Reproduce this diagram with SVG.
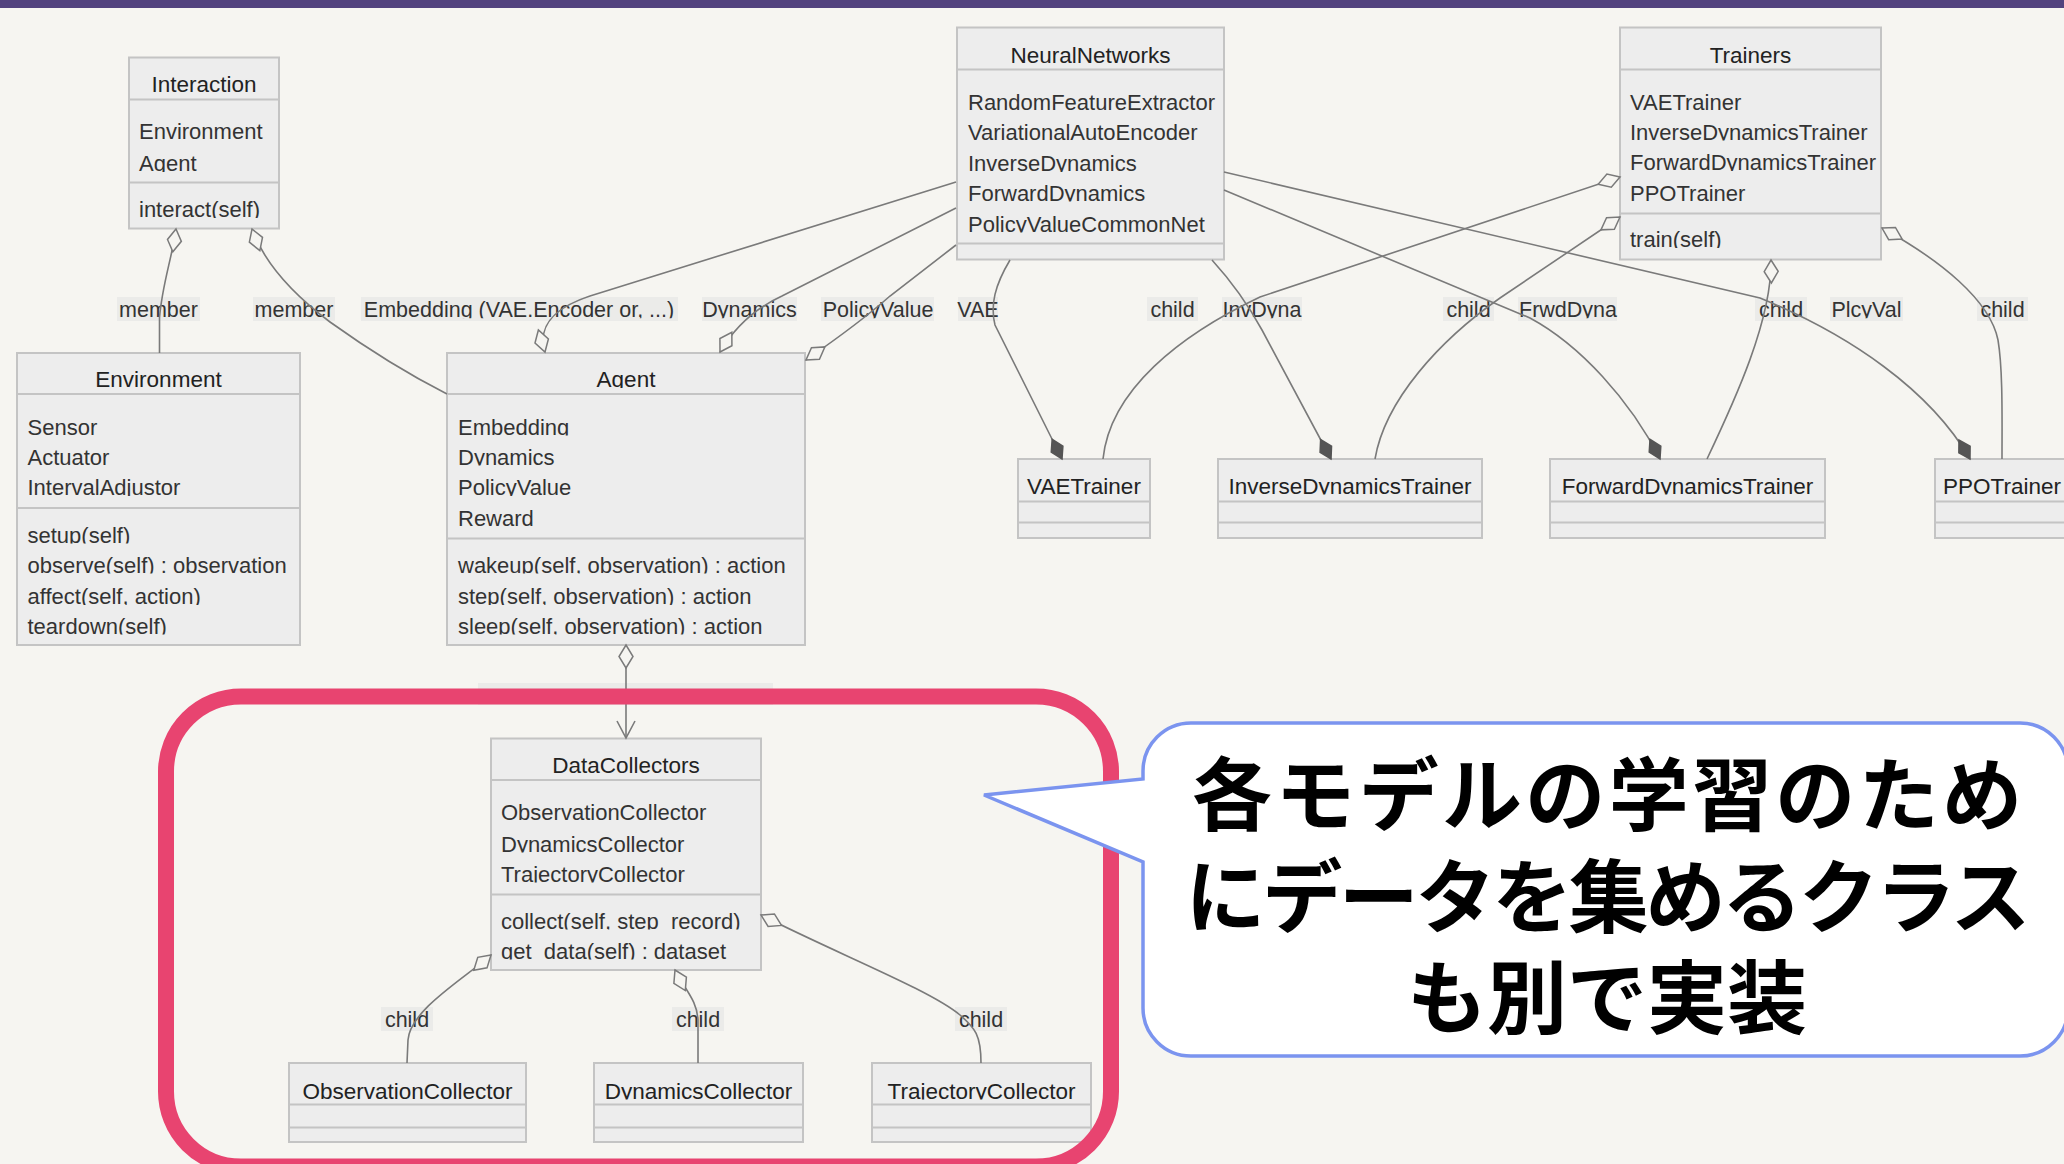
<svg xmlns="http://www.w3.org/2000/svg" width="2064" height="1164" viewBox="0 0 2064 1164">
  <defs>
    <style>
      .nb { fill: #ededed; stroke: #c4c4c4; stroke-width: 2; }
      .dv { stroke: #c4c4c4; stroke-width: 2; }
      .t { font-family: "Liberation Sans", Arial, sans-serif; font-size: 22px; fill: #333; clip-path: url(#cut); }
      .tt { font-size: 22.5px; text-anchor: middle; fill: #222; }
      .lb { font-size: 21.5px; text-anchor: middle; }
      .lbg { fill: #ebebe9; }
      .e { fill: none; stroke: #7a7a7a; stroke-width: 1.6; }
      .agg { marker-start: url(#aggS); }
      .aggE { marker-end: url(#aggE); }
      .comp { marker-end: url(#compE); }
      .jp { font-family: "Noto Sans CJK JP", "Noto Sans CJK SC", sans-serif; font-size: 80px; font-weight: 700; fill: #000; text-anchor: middle; }
    </style>
    <!-- descenders are cut off at the baseline, as in the rendered class boxes -->
    <clipPath id="cut" clipPathUnits="objectBoundingBox">
      <rect x="-0.1" y="-0.2" width="1.2" height="1.04"/>
    </clipPath>
    <marker id="aggS" markerUnits="userSpaceOnUse" orient="auto" overflow="visible" markerWidth="30" markerHeight="30" refX="0" refY="0">
      <path d="M0,0 L11.5,-7 L23,0 L11.5,7 Z" fill="#f6f5f1" stroke="#7a7a7a" stroke-width="1.5"/>
    </marker>
    <marker id="aggE" markerUnits="userSpaceOnUse" orient="auto" overflow="visible" markerWidth="30" markerHeight="30" refX="0" refY="0">
      <path d="M0,0 L-11.5,-7 L-23,0 L-11.5,7 Z" fill="#f6f5f1" stroke="#7a7a7a" stroke-width="1.5"/>
    </marker>
    <marker id="compE" markerUnits="userSpaceOnUse" orient="auto" overflow="visible" markerWidth="30" markerHeight="30" refX="0" refY="0">
      <path d="M0,0 L-11,-6.5 L-22,0 L-11,6.5 Z" fill="#555" stroke="#555" stroke-width="1.5"/>
    </marker>
    <marker id="openArrow" markerUnits="userSpaceOnUse" orient="auto" overflow="visible" markerWidth="30" markerHeight="30" refX="0" refY="0">
      <path d="M-17,-9 L0,0 L-17,9" fill="none" stroke="#7a7a7a" stroke-width="1.6"/>
    </marker>
  </defs>

  <rect x="0" y="0" width="2064" height="1164" fill="#f6f5f1"/>
  <rect x="0" y="0" width="2064" height="8" fill="#52427e"/>

  <!-- class boxes -->
  <g id="interaction">
    <rect class="nb" x="129" y="57.5" width="150" height="171"/>
    <line class="dv" x1="129" y1="99.5" x2="279" y2="99.5"/>
    <line class="dv" x1="129" y1="182.5" x2="279" y2="182.5"/>
    <text class="t tt" x="204" y="92">Interaction</text>
    <text class="t" x="139" y="139">Environment</text>
    <text class="t" x="139" y="171">Agent</text>
    <text class="t" x="139" y="217">interact(self)</text>
  </g>

  <g id="environment">
    <rect class="nb" x="17" y="353" width="283" height="292"/>
    <line class="dv" x1="17" y1="394" x2="300" y2="394"/>
    <line class="dv" x1="17" y1="508" x2="300" y2="508"/>
    <text class="t tt" x="158.5" y="387">Environment</text>
    <text class="t" x="27.5" y="434.5">Sensor</text>
    <text class="t" x="27.5" y="464.5">Actuator</text>
    <text class="t" x="27.5" y="495">IntervalAdjustor</text>
    <text class="t" x="27.5" y="542.5">setup(self)</text>
    <text class="t" x="27.5" y="572.5">observe(self) : observation</text>
    <text class="t" x="27.5" y="604">affect(self, action)</text>
    <text class="t" x="27.5" y="633.5">teardown(self)</text>
  </g>

  <g id="agent">
    <rect class="nb" x="447" y="353" width="358" height="292"/>
    <line class="dv" x1="447" y1="394" x2="805" y2="394"/>
    <line class="dv" x1="447" y1="538.5" x2="805" y2="538.5"/>
    <text class="t tt" x="626" y="387">Agent</text>
    <text class="t" x="458" y="434.5">Embedding</text>
    <text class="t" x="458" y="464.5">Dynamics</text>
    <text class="t" x="458" y="495">PolicyValue</text>
    <text class="t" x="458" y="525.5">Reward</text>
    <text class="t" x="458" y="572.5">wakeup(self, observation) : action</text>
    <text class="t" x="458" y="604">step(self, observation) : action</text>
    <text class="t" x="458" y="633.5">sleep(self, observation) : action</text>
  </g>

  <g id="neural-networks">
    <rect class="nb" x="957" y="27.5" width="267" height="232"/>
    <line class="dv" x1="957" y1="69.5" x2="1224" y2="69.5"/>
    <line class="dv" x1="957" y1="243.5" x2="1224" y2="243.5"/>
    <text class="t tt" x="1090.5" y="62.5">NeuralNetworks</text>
    <text class="t" x="968" y="109.5">RandomFeatureExtractor</text>
    <text class="t" x="968" y="139.5">VariationalAutoEncoder</text>
    <text class="t" x="968" y="171">InverseDynamics</text>
    <text class="t" x="968" y="200.5">ForwardDynamics</text>
    <text class="t" x="968" y="231.5">PolicyValueCommonNet</text>
  </g>

  <g id="trainers">
    <rect class="nb" x="1620" y="27.5" width="261" height="232"/>
    <line class="dv" x1="1620" y1="69.5" x2="1881" y2="69.5"/>
    <line class="dv" x1="1620" y1="213.5" x2="1881" y2="213.5"/>
    <text class="t tt" x="1750.5" y="62.5">Trainers</text>
    <text class="t" x="1630" y="109.5">VAETrainer</text>
    <text class="t" x="1630" y="139.5">InverseDynamicsTrainer</text>
    <text class="t" x="1630" y="170">ForwardDynamicsTrainer</text>
    <text class="t" x="1630" y="200.5">PPOTrainer</text>
    <text class="t" x="1630" y="247">train(self)</text>
  </g>

  <g id="vae-trainer">
    <rect class="nb" x="1018" y="459" width="132" height="79"/>
    <line class="dv" x1="1018" y1="501.5" x2="1150" y2="501.5"/>
    <line class="dv" x1="1018" y1="522.5" x2="1150" y2="522.5"/>
    <text class="t tt" x="1084" y="493.5">VAETrainer</text>
  </g>

  <g id="inverse-dynamics-trainer">
    <rect class="nb" x="1218" y="459" width="264" height="79"/>
    <line class="dv" x1="1218" y1="501.5" x2="1482" y2="501.5"/>
    <line class="dv" x1="1218" y1="522.5" x2="1482" y2="522.5"/>
    <text class="t tt" x="1350" y="493.5">InverseDynamicsTrainer</text>
  </g>

  <g id="forward-dynamics-trainer">
    <rect class="nb" x="1550" y="459" width="275" height="79"/>
    <line class="dv" x1="1550" y1="501.5" x2="1825" y2="501.5"/>
    <line class="dv" x1="1550" y1="522.5" x2="1825" y2="522.5"/>
    <text class="t tt" x="1687.5" y="493.5">ForwardDynamicsTrainer</text>
  </g>

  <g id="ppo-trainer">
    <rect class="nb" x="1935" y="459" width="134" height="79"/>
    <line class="dv" x1="1935" y1="501.5" x2="2069" y2="501.5"/>
    <line class="dv" x1="1935" y1="522.5" x2="2069" y2="522.5"/>
    <text class="t tt" x="2002" y="493.5">PPOTrainer</text>
  </g>

  <g id="data-collectors">
    <rect class="nb" x="491" y="738.5" width="270" height="231.5"/>
    <line class="dv" x1="491" y1="780" x2="761" y2="780"/>
    <line class="dv" x1="491" y1="894.5" x2="761" y2="894.5"/>
    <text class="t tt" x="626" y="772.5">DataCollectors</text>
    <text class="t" x="501" y="820">ObservationCollector</text>
    <text class="t" x="501" y="851.5">DynamicsCollector</text>
    <text class="t" x="501" y="881.5">TrajectoryCollector</text>
    <text class="t" x="501" y="928.5">collect(self, step_record)</text>
    <text class="t" x="501" y="958.5">get_data(self) : dataset</text>
  </g>

  <g id="observation-collector">
    <rect class="nb" x="289" y="1063" width="237" height="79"/>
    <line class="dv" x1="289" y1="1104.5" x2="526" y2="1104.5"/>
    <line class="dv" x1="289" y1="1127.5" x2="526" y2="1127.5"/>
    <text class="t tt" x="407.5" y="1098.5">ObservationCollector</text>
  </g>

  <g id="dynamics-collector">
    <rect class="nb" x="594" y="1063" width="209" height="79"/>
    <line class="dv" x1="594" y1="1104.5" x2="803" y2="1104.5"/>
    <line class="dv" x1="594" y1="1127.5" x2="803" y2="1127.5"/>
    <text class="t tt" x="698.5" y="1098.5">DynamicsCollector</text>
  </g>

  <g id="trajectory-collector">
    <rect class="nb" x="872" y="1063" width="219" height="79"/>
    <line class="dv" x1="872" y1="1104.5" x2="1091" y2="1104.5"/>
    <line class="dv" x1="872" y1="1127.5" x2="1091" y2="1127.5"/>
    <text class="t tt" x="981.5" y="1098.5">TrajectoryCollector</text>
  </g>

  <!-- relation labels -->
  <g id="edge-labels">
    <rect class="lbg" x="117" y="297" width="83" height="24"/>
    <text class="t lb" x="158.5" y="317">member</text>
    <rect class="lbg" x="253" y="297" width="82" height="24"/>
    <text class="t lb" x="294" y="317">member</text>
    <rect class="lbg" x="361" y="297" width="317" height="24"/>
    <text class="t lb" x="519" y="317">Embedding (VAE.Encoder or, ...)</text>
    <rect class="lbg" x="702" y="297" width="95" height="24"/>
    <text class="t lb" x="749.5" y="317">Dynamics</text>
    <rect class="lbg" x="821" y="297" width="113" height="24"/>
    <text class="t lb" x="878" y="317">PolicyValue</text>
    <rect class="lbg" x="958" y="297" width="40" height="24"/>
    <text class="t lb" x="978" y="317">VAE</text>
    <rect class="lbg" x="1147" y="297" width="51" height="24"/>
    <text class="t lb" x="1172.5" y="317">child</text>
    <rect class="lbg" x="1222" y="297" width="80" height="24"/>
    <text class="t lb" x="1262" y="317">InvDyna</text>
    <rect class="lbg" x="1443" y="297" width="51" height="24"/>
    <text class="t lb" x="1468.5" y="317">child</text>
    <rect class="lbg" x="1518" y="297" width="99" height="24"/>
    <text class="t lb" x="1568" y="317">FrwdDyna</text>
    <rect class="lbg" x="1755" y="297" width="52" height="24"/>
    <text class="t lb" x="1781" y="317">child</text>
    <rect class="lbg" x="1830" y="297" width="73" height="24"/>
    <text class="t lb" x="1866.5" y="317">PlcyVal</text>
    <rect class="lbg" x="1977" y="297" width="51" height="24"/>
    <text class="t lb" x="2002.5" y="317">child</text>
    <rect class="lbg" x="478" y="683" width="295" height="22"/>
    <rect class="lbg" x="381" y="1007" width="52" height="24"/>
    <text class="t lb" x="407" y="1027">child</text>
    <rect class="lbg" x="672" y="1007" width="52" height="24"/>
    <text class="t lb" x="698" y="1027">child</text>
    <rect class="lbg" x="955" y="1007" width="52" height="24"/>
    <text class="t lb" x="981" y="1027">child</text>
  </g>

  <!-- relations -->
  <g id="connectors">
    <path class="e agg" d="M176,229 C172,258 162,285 159.5,318 L159.5,353"/>
    <path class="e agg" d="M252,229 C264,262 290,292 330,322 Q390,365 447,394"/>
    <path class="e aggE" d="M956,182 L590,296 C560,306 536,322 545,352"/>
    <path class="e aggE" d="M956,208 L782,296 C760,306 738,322 720,352"/>
    <path class="e aggE" d="M956,245 L890,296 C872,312 845,333 806,360"/>
    <path class="e comp" d="M1010,260 C995,285 990,305 995,325 L1062,459"/>
    <path class="e agg" d="M1620,177 L1260,297 C1180,335 1110,390 1103,459"/>
    <path class="e agg" d="M1620,217 L1500,298 C1440,340 1385,400 1375,459"/>
    <path class="e comp" d="M1212,260 C1232,282 1250,308 1262,330 L1331,459"/>
    <path class="e comp" d="M1224,190 L1530,318 C1580,345 1630,400 1660,459"/>
    <path class="e comp" d="M1224,172 L1760,298 C1850,335 1930,390 1970,459"/>
    <path class="e agg" d="M1771,260 C1772,320 1735,400 1707,459"/>
    <path class="e agg" d="M1882,228 C1940,260 1990,300 1998,340 C2003,370 2002,420 2002,459"/>
    <path class="e agg" d="M626,645 L626,738" marker-end="url(#openArrow)"/>
    <path class="e agg" d="M491,955 C465,978 410,1010 408,1040 L407,1063"/>
    <path class="e agg" d="M675,970 C685,990 697,1000 698,1020 L698,1063"/>
    <path class="e agg" d="M761,915 C840,955 930,990 960,1015 C975,1028 981,1035 981,1063"/>
  </g>

  <!-- highlight frame around the data collector classes -->
  <g id="highlight">
    <rect x="166" y="696.5" width="945" height="470" rx="75" ry="75" fill="none" stroke="#e84470" stroke-width="16"/>
  </g>

  <!-- speech bubble -->
  <g id="callout">
    <path d="M1191,723 H2020 A48,48 0 0 1 2068,771 V1008 A48,48 0 0 1 2020,1056 H1191 A48,48 0 0 1 1143,1008 V862 L984,795 L1143,779 V771 A48,48 0 0 1 1191,723 Z" fill="#ffffff" stroke="#7b94ef" stroke-width="3.5"/>
    <text class="jp"><tspan x="1607" y="824" textLength="830">各モデルの学習のため</tspan><tspan x="1608" y="926" textLength="845">にデータを集めるクラス</tspan><tspan x="1607" y="1027">も別で実装</tspan></text>
  </g>
</svg>
